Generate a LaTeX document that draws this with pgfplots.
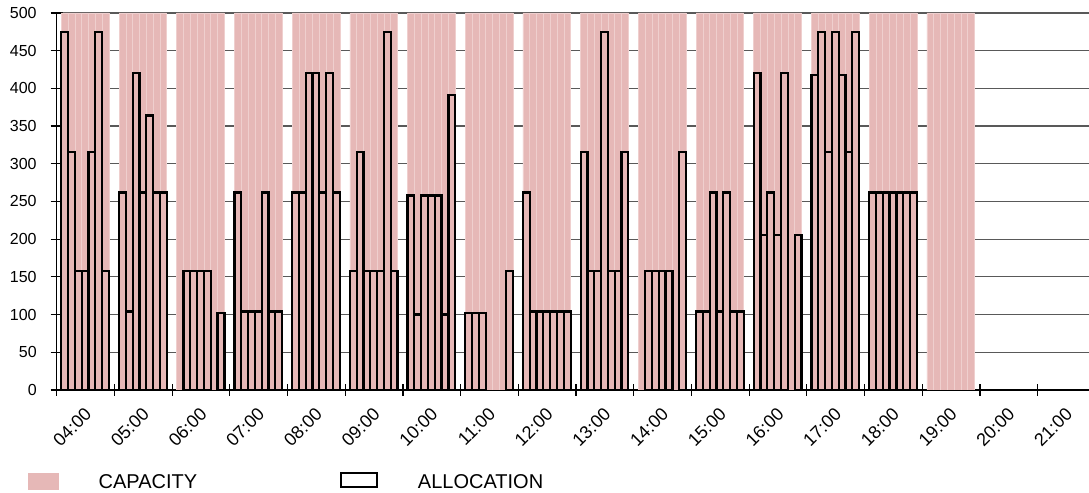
\documentclass[border=0pt]{standalone}
\usepackage{fontspec}
\setmainfont{Liberation Sans}
\usepackage{pgfplots}
\usepackage{pgfplotstable}
\pgfplotsset{compat=1.18}
\definecolor{capcol}{HTML}{E6B8B7}
\definecolor{caplinecol}{HTML}{EFCFCE}
\definecolor{gridc}{HTML}{595959}

\pgfplotstableread{
x cap alloc
0.139 500 475
0.257 500 316
0.375 500 158
0.493 500 158
0.611 500 316
0.729 500 475
0.847 500 158
1.139 500 262
1.257 500 104
1.375 500 420
1.493 500 262
1.611 500 364
1.729 500 262
1.847 500 262
2.139 500 nan
2.257 500 158
2.375 500 158
2.493 500 158
2.611 500 158
2.729 500 nan
2.847 500 102
3.139 500 262
3.257 500 104
3.375 500 104
3.493 500 104
3.611 500 262
3.729 500 104
3.847 500 104
4.139 500 262
4.257 500 262
4.375 500 420
4.493 500 420
4.611 500 262
4.729 500 420
4.847 500 262
5.139 500 158
5.257 500 316
5.375 500 158
5.493 500 158
5.611 500 158
5.729 500 475
5.847 500 158
6.139 500 258
6.257 500 100
6.375 500 258
6.493 500 258
6.611 500 258
6.729 500 100
6.847 500 391
7.139 500 102
7.257 500 102
7.375 500 102
7.493 500 nan
7.611 500 nan
7.729 500 nan
7.847 500 158
8.139 500 262
8.257 500 104
8.375 500 104
8.493 500 104
8.611 500 104
8.729 500 104
8.847 500 104
9.139 500 316
9.257 500 158
9.375 500 158
9.493 500 475
9.611 500 158
9.729 500 158
9.847 500 316
10.139 500 nan
10.257 500 158
10.375 500 158
10.493 500 158
10.611 500 158
10.729 500 nan
10.847 500 316
11.139 500 104
11.257 500 104
11.375 500 262
11.493 500 104
11.611 500 262
11.729 500 104
11.847 500 104
12.139 500 420
12.257 500 206
12.375 500 262
12.493 500 206
12.611 500 420
12.729 500 nan
12.847 500 206
13.139 500 418
13.257 500 475
13.375 500 316
13.493 500 475
13.611 500 418
13.729 500 316
13.847 500 475
14.139 500 262
14.257 500 262
14.375 500 262
14.493 500 262
14.611 500 262
14.729 500 262
14.847 500 262
15.139 500 nan
15.257 500 nan
15.375 500 nan
15.493 500 nan
15.611 500 nan
15.729 500 nan
15.847 500 nan
}\data

\begin{document}
\begin{tikzpicture}
\begin{axis}[
  x=28.85pt, y=0.377pt,
  xmin=0, xmax=18, ymin=0, ymax=500,
  axis lines*=left,
  axis line style={black, line width=0.6pt},
  ymajorgrids,
  grid style={gridc, line width=0.6pt},
  ytick={0,50,...,500},
  xtick={0,1,...,18},
  xticklabels={04:00,05:00,06:00,07:00,08:00,09:00,10:00,11:00,12:00,13:00,14:00,15:00,16:00,17:00,18:00,19:00,20:00,21:00},
  x tick label as interval,
  tick align=center,
  major tick length=6pt,
  tick style={black, line width=0.6pt},
  xticklabel style={rotate=45, anchor=east, font=\fontsize{9}{10.8}\selectfont, xshift=-0.9pt, yshift=-6.2pt},
  yticklabel style={font=\fontsize{8}{9.6}\selectfont, xshift=-3.5pt},
  /pgf/number format/assume math mode=true,
  legend columns=2,
  legend style={at={(-0.0276,-0.2440)}, anchor=west, draw=none, fill=none,
    inner sep=0pt, outer sep=0pt, font=\fontsize{10}{12}\selectfont,
    nodes={inner sep=0pt},
    /tikz/every odd column/.append style={column sep=20pt},
    /tikz/every even column/.append style={column sep=71.5pt}},
]
\addplot[ybar, bar width=0.118, bar shift=0pt, fill=capcol, draw=caplinecol, line width=0.3pt,
  legend image code/.code={\fill[capcol] (0pt,-2.9pt) rectangle (15pt,5.1pt);}]
  table[x=x, y=cap] {\data};
\addlegendentry{CAPACITY}
\addplot[ybar, bar width=0.118, bar shift=0pt, draw=black, fill=none, line width=1.1pt,
  legend image code/.code={\draw[black, line width=0.9pt, fill=white] (0pt,-2pt) rectangle (18pt,5pt);}]
  table[x=x, y=alloc] {\data};
\addlegendentry{ALLOCATION}
\coordinate (bl) at (axis cs:-0.983,-136.6);
\coordinate (tr) at (axis cs:17.89,517.2);
\end{axis}
\pgfresetboundingbox
\path (bl) rectangle (tr);
\end{tikzpicture}
\end{document}
